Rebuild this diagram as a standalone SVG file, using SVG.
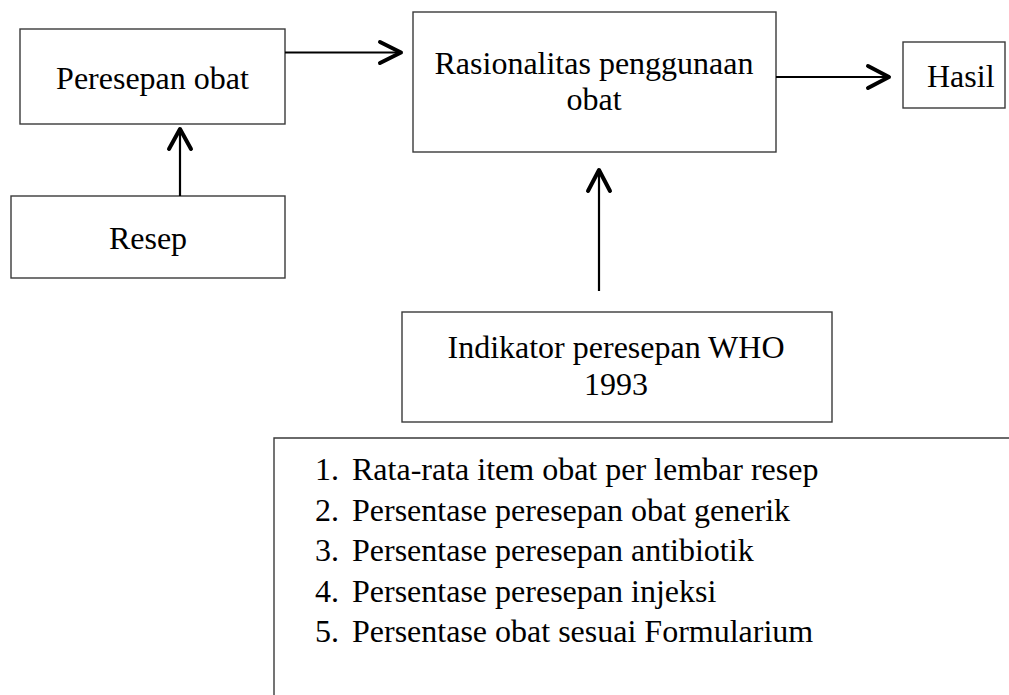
<svg xmlns="http://www.w3.org/2000/svg" width="1009" height="695" viewBox="0 0 1009 695">
<style>
.box{fill:#fff;stroke:#3a3a3a;stroke-width:1.4}
.t{font-family:'Times New Roman','Liberation Serif','DejaVu Serif',serif;font-size:32px;fill:#000}
.c{text-anchor:middle}
.ln{stroke:#000;stroke-width:2.2;fill:none}
.hd{stroke:#000;stroke-width:4;fill:none;stroke-linecap:round;stroke-linejoin:round}
</style>
<rect width="1009" height="695" fill="#fff"/>
<g id="peresepan">
<rect class="box" x="20" y="29" width="265" height="95"/>
<text class="t c" x="152.5" y="89">Peresepan obat</text>
</g>
<g id="resep">
<rect class="box" x="11" y="196" width="274" height="82"/>
<text class="t c" x="148" y="249">Resep</text>
</g>
<g id="rasionalitas">
<rect class="box" x="413" y="12" width="363" height="140"/>
<text class="t c" x="594" y="74">Rasionalitas penggunaan</text>
<text class="t c" x="594" y="110">obat</text>
</g>
<g id="hasil">
<rect class="box" x="903" y="42" width="102" height="66"/>
<text class="t" x="927" y="87">Hasil</text>
</g>
<g id="indikator">
<rect class="box" x="402" y="312" width="430" height="110"/>
<text class="t c" x="616" y="358">Indikator peresepan WHO</text>
<text class="t c" x="616" y="395">1993</text>
</g>
<g id="daftar">
<path class="box" d="M1010,438 H274 V700"/>
<text class="t" x="315" y="480">1.</text>
<text class="t" x="352" y="480">Rata-rata item obat per lembar resep</text>
<text class="t" x="315" y="520.5">2.</text>
<text class="t" x="352" y="520.5">Persentase peresepan obat generik</text>
<text class="t" x="315" y="561">3.</text>
<text class="t" x="352" y="561">Persentase peresepan antibiotik</text>
<text class="t" x="315" y="601.5">4.</text>
<text class="t" x="352" y="601.5">Persentase peresepan injeksi</text>
<text class="t" x="315" y="642">5.</text>
<text class="t" x="352" y="642">Persentase obat sesuai Formularium</text>
</g>
<g id="connectors">
<line class="ln" x1="180" y1="196" x2="180" y2="130"/>
<path class="hd" d="M169,149 L180,129 L191,149"/>
<line class="ln" x1="285" y1="52.5" x2="400" y2="52.5"/>
<path class="hd" d="M380,42 L401,52.5 L380,63"/>
<line class="ln" x1="776" y1="77" x2="888" y2="77"/>
<path class="hd" d="M868,66 L889,77 L868,88"/>
<line class="ln" x1="599" y1="291" x2="599" y2="171"/>
<path class="hd" d="M588,191 L599,170 L610,191"/>
</g>
</svg>
